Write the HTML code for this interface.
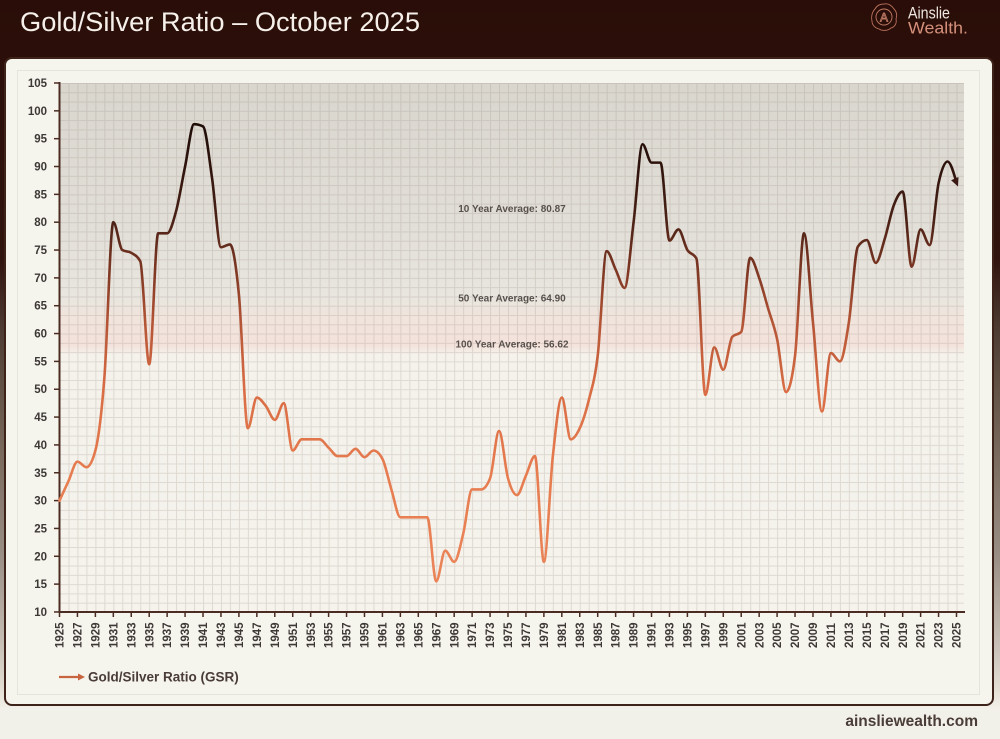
<!DOCTYPE html>
<html>
<head>
<meta charset="utf-8">
<style>
  html,body{margin:0;padding:0;background:#f2f1e9;}
  body{width:1000px;height:739px;overflow:hidden;}
  svg{display:block;}
  text{font-family:"Liberation Sans",Arial,sans-serif;}
</style>
</head>
<body>
<svg width="1000" height="739" viewBox="0 0 1000 739" xmlns="http://www.w3.org/2000/svg">
  <defs>
    <linearGradient id="pagebg" x1="0" y1="0" x2="0" y2="739" gradientUnits="userSpaceOnUse">
      <stop offset="0" stop-color="#2a0d08"/>
      <stop offset="0.35" stop-color="#30140d"/>
      <stop offset="0.45" stop-color="#4f3d33"/>
      <stop offset="0.60" stop-color="#766659"/>
      <stop offset="0.75" stop-color="#9a8e84"/>
      <stop offset="0.85" stop-color="#beb5ab"/>
      <stop offset="0.93" stop-color="#e2ddd3"/>
      <stop offset="0.96" stop-color="#f2f1e9"/>
      <stop offset="1" stop-color="#f2f1e9"/>
    </linearGradient>
    <linearGradient id="plotbg" x1="0" y1="83" x2="0" y2="612" gradientUnits="userSpaceOnUse">
      <stop offset="0" stop-color="#d9d6ce"/>
      <stop offset="0.253" stop-color="#e1ded7"/>
      <stop offset="0.41" stop-color="#e9e6df"/>
      <stop offset="0.44" stop-color="#f0e4dc"/>
      <stop offset="0.495" stop-color="#f3e2db"/>
      <stop offset="0.514" stop-color="#f4f2eb"/>
      <stop offset="1" stop-color="#f5f3ec"/>
    </linearGradient>
    <pattern id="grid" x="59.5" y="83" width="8.97" height="9.28" patternUnits="userSpaceOnUse">
      <path d="M0 0.5 H8.97 M0.5 0 V9.28" stroke="rgba(140,128,118,0.22)" stroke-width="1" fill="none"/>
    </pattern>
    <linearGradient id="lg" gradientUnits="userSpaceOnUse" x1="0" y1="100" x2="0" y2="10">
      <stop offset="0" stop-color="#1c0b07"/>
      <stop offset="0.111" stop-color="#2e130c"/>
      <stop offset="0.222" stop-color="#4c2216"/>
      <stop offset="0.311" stop-color="#7a3522"/>
      <stop offset="0.422" stop-color="#b35436"/>
      <stop offset="0.556" stop-color="#d96c44"/>
      <stop offset="0.722" stop-color="#e67c50"/>
      <stop offset="1" stop-color="#ec875b"/>
    </linearGradient>
  </defs>

  <!-- page background -->
  <rect x="0" y="0" width="1000" height="739" fill="url(#pagebg)"/>

  <!-- header -->
  <text x="20" y="31" font-size="27" fill="#f6f0ea" textLength="400" lengthAdjust="spacingAndGlyphs">Gold/Silver Ratio – October 2025</text>

  <!-- logo -->
  <g>
    <path d="M884 4 C889 3 892 6 894 9 C897 12 897 16 896 19 C897 23 895 27 891 28 C888 31 882 31 879 29 C875 28 872 25 872 21 C871 17 872 12 875 9 C877 5 880 4 884 4 Z" fill="none" stroke="#b8705c" stroke-width="0.9"/>
    <circle cx="884" cy="17" r="8" fill="none" stroke="#c47e68" stroke-width="0.9"/>
    <text x="884" y="21.5" font-size="12" text-anchor="middle" fill="none" stroke="#d08a72" stroke-width="0.7">A</text>
    <text x="908" y="18.3" font-size="17" fill="#eee6e0" textLength="42" lengthAdjust="spacingAndGlyphs">Ainslie</text>
    <text x="908" y="33.3" font-size="17" fill="#d4907a" textLength="60" lengthAdjust="spacingAndGlyphs">Wealth.</text>
  </g>

  <!-- card -->
  <rect x="5" y="58" width="988" height="647" rx="7" ry="7" fill="#f5f4ed" stroke="#3e231a" stroke-width="2"/>
  <rect x="17.5" y="70.5" width="962" height="624" fill="none" stroke="#e6e3db" stroke-width="1"/>

  <!-- plot background -->
  <rect x="60" y="83" width="904" height="529" fill="url(#plotbg)"/>
  <rect x="60" y="83" width="904" height="529" fill="url(#grid)"/>

  <!-- average labels -->
  <g font-size="10" font-weight="bold" fill="#58504c" text-anchor="middle">
    <text x="512" y="212">10 Year Average: 80.87</text>
    <text x="512" y="301.5">50 Year Average: 64.90</text>
    <text x="512" y="347.5">100 Year Average: 56.62</text>
  </g>

  <!-- axes -->
  <g stroke="#4b2c22" stroke-width="2" fill="none">
    <line x1="59.5" y1="82" x2="59.5" y2="613"/>
    <line x1="58.5" y1="612" x2="965" y2="612"/>
  </g>

  <!-- y ticks & labels -->
  <g stroke="#4b2c22" stroke-width="1.5">
    <line x1="54" y1="83" x2="59" y2="83"/>
    <line x1="54" y1="110.84" x2="59" y2="110.84"/>
    <line x1="54" y1="138.68" x2="59" y2="138.68"/>
    <line x1="54" y1="166.52" x2="59" y2="166.52"/>
    <line x1="54" y1="194.36" x2="59" y2="194.36"/>
    <line x1="54" y1="222.2" x2="59" y2="222.2"/>
    <line x1="54" y1="250.04" x2="59" y2="250.04"/>
    <line x1="54" y1="277.88" x2="59" y2="277.88"/>
    <line x1="54" y1="305.72" x2="59" y2="305.72"/>
    <line x1="54" y1="333.56" x2="59" y2="333.56"/>
    <line x1="54" y1="361.4" x2="59" y2="361.4"/>
    <line x1="54" y1="389.24" x2="59" y2="389.24"/>
    <line x1="54" y1="417.08" x2="59" y2="417.08"/>
    <line x1="54" y1="444.92" x2="59" y2="444.92"/>
    <line x1="54" y1="472.76" x2="59" y2="472.76"/>
    <line x1="54" y1="500.6" x2="59" y2="500.6"/>
    <line x1="54" y1="528.44" x2="59" y2="528.44"/>
    <line x1="54" y1="556.28" x2="59" y2="556.28"/>
    <line x1="54" y1="584.12" x2="59" y2="584.12"/>
    <line x1="54" y1="611.96" x2="59" y2="611.96"/>
  </g>
  <g font-size="11.5" font-weight="bold" fill="#3d3836" text-anchor="end">
    <text x="47" y="87">105</text>
    <text x="47" y="114.84">100</text>
    <text x="47" y="142.68">95</text>
    <text x="47" y="170.52">90</text>
    <text x="47" y="198.36">85</text>
    <text x="47" y="226.2">80</text>
    <text x="47" y="254.04">75</text>
    <text x="47" y="281.88">70</text>
    <text x="47" y="309.72">65</text>
    <text x="47" y="337.56">60</text>
    <text x="47" y="365.4">55</text>
    <text x="47" y="393.24">50</text>
    <text x="47" y="421.08">45</text>
    <text x="47" y="448.92">40</text>
    <text x="47" y="476.76">35</text>
    <text x="47" y="504.6">30</text>
    <text x="47" y="532.44">25</text>
    <text x="47" y="560.28">20</text>
    <text x="47" y="588.12">15</text>
    <text x="47" y="615.96">10</text>
  </g>

  <!-- x ticks & labels (generated statically below) -->
  <g id="xticks" stroke="#4b2c22" stroke-width="1.5"></g>
  <g id="xlabels" font-size="11.5" font-weight="bold" fill="#3d3836"></g>

  <!-- series -->
  <g transform="matrix(8.97 0 0 -5.568 59.5 667.64)">
    <path id="gsr" fill="none" stroke="url(#lg)" stroke-width="2.6" stroke-linejoin="round" stroke-linecap="round" vector-effect="non-scaling-stroke"
      d="M0 30 L1 33.5 L2 37 L3 36 L4 39 L5 52 L6 80 L7 75 L8 74.5 L9 73 L10 54.5 L11 78 L12 78 L13 82 L14 90 L15 97.6 L16 97.2 L17 88 L18 75.5 L19 76 L20 67 L21 43 L22 48.5 L23 47 L24 44.5 L25 47.5 L26 39 L27 41 L28 41 L29 41 L30 39.5 L31 38 L32 38 L33 39.3 L34 37.8 L35 39 L36 37.5 L37 32 L38 27 L39 27 L40 27 L41 27 L42 15.5 L43 21 L44 19 L45 24 L46 32 L47 32 L48 34 L49 42.5 L50 34 L51 31 L52 34.5 L53 38 L54 19 L55 38 L56 48.5 L57 41 L58 43 L59 48 L60 56 L61 74.8 L62 71.5 L63 68.2 L64 80 L65 94 L66 90.7 L67 90.7 L68 76.7 L69 78.7 L70 75 L71 73.5 L72 49 L73 57.5 L74 53.5 L75 59.4 L76 60.3 L77 73.6 L78 70 L79 64.5 L80 59 L81 49.5 L82 56 L83 78 L84 62 L85 46 L86 56.5 L87 55 L88 62 L89 75.6 L90 76.8 L91 72.7 L92 77 L93 83 L94 85.5 L95 72 L96 78.7 L97 75.9 L98 87 L99 90.9 L100 87.1"/>
  </g>
  <!-- arrow head at end -->
  <polygon points="958,186.5 951.1,180.2 958.5,177.0" fill="#3a1a12"/>

  <!-- legend -->
  <line x1="59" y1="677" x2="79" y2="677" stroke="#c8643f" stroke-width="2.2"/>
  <polygon points="85,677 78,673.5 78,680.5" fill="#c8643f"/>
  <text x="88" y="681.5" font-size="13.5" font-weight="bold" fill="#4a3c37">Gold/Silver Ratio (GSR)</text>

  <!-- footer -->
  <text x="978" y="726" font-size="15.5" font-weight="bold" fill="#4a3c37" text-anchor="end">ainsliewealth.com</text>
</svg>

<script>
(function(){
  var ns="http://www.w3.org/2000/svg";
  // x ticks & labels
  var tg=document.getElementById('xticks'), lg=document.getElementById('xlabels');
  for(var yr=1925; yr<=2025; yr+=2){
    var x=59.5+(yr-1925)*8.97;
    var l=document.createElementNS(ns,'line');
    l.setAttribute('x1',x);l.setAttribute('x2',x);l.setAttribute('y1',612);l.setAttribute('y2',617);
    tg.appendChild(l);
    var t=document.createElementNS(ns,'text');
    t.setAttribute('transform','translate('+(x+4.1)+',648) rotate(-90)');
    t.textContent=String(yr);
    lg.appendChild(t);
  }
  // smooth monotone curve
  var v=[30,33.5,37,36,39,52,80,75,74.5,73,54.5,78,78,82,90,97.6,97.2,88,75.5,76,67,43,48.5,47,44.5,47.5,39,41,41,41,39.5,38,38,39.3,37.8,39,37.5,32,27,27,27,27,15.5,21,19,24,32,32,34,42.5,34,31,34.5,38,19,38,48.5,41,43,48,56,74.8,71.5,68.2,80,94,90.7,90.7,76.7,78.7,75,73.5,49,57.5,53.5,59.4,60.3,73.6,70,64.5,59,49.5,56,78,62,46,56.5,55,62,75.6,76.8,72.7,77,83,85.5,72,78.7,75.9,87,90.9,87.1];
  var n=v.length,s=[],t=[],i;
  for(i=0;i<n-1;i++) s[i]=v[i+1]-v[i];
  for(i=1;i<n-1;i++){
    var a=s[i-1],b=s[i];
    if(a*b<=0){t[i]=0;}
    else{
      var p=(a+b)/2;
      var sg=a>0?1:-1;
      t[i]=sg*Math.min(2*Math.abs(a),2*Math.abs(b),Math.abs(p));
    }
  }
  t[0]=(3*s[0]-t[1])/2;
  t[n-1]=(3*s[n-2]-t[n-2])/2;
  var d="M0 "+v[0];
  for(i=0;i<n-1;i++){
    d+=" C"+(i+1/3).toFixed(4)+" "+(v[i]+t[i]/3).toFixed(4)+" "+(i+2/3).toFixed(4)+" "+(v[i+1]-t[i+1]/3).toFixed(4)+" "+(i+1)+" "+v[i+1];
  }
  document.getElementById('gsr').setAttribute('d',d);
})();
</script>
</body>
</html>
